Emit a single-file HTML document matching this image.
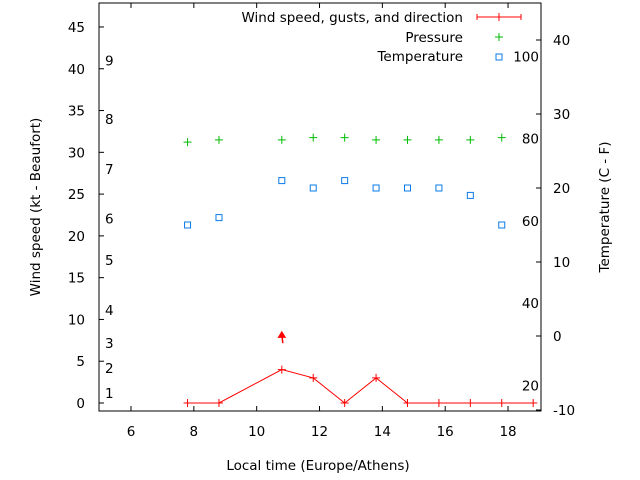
<!DOCTYPE html>
<html><head><meta charset="utf-8"><style>
body{margin:0;background:#fff;}
svg{display:block;font-family:"DejaVu Sans","Liberation Sans",sans-serif;font-size:13.5px;}
</style></head><body>
<svg id="chart" width="640" height="480">
<g id="axes"></g><g id="marks"></g>
</svg>
<script>
const times=[7.8,8.8,10.8,11.8,12.8,13.8,14.8,15.8,16.8,17.8,18.8];
const windKt=[0,0,4,3,0,3,0,0,0,0,0];
const gustTimes=[10.8];
const gustKt=[8];
const pressureTimes=[7.8,8.8,10.8,11.8,12.8,13.8,14.8,15.8,16.8,17.8];
const pressureVals=[26.2,26.5,26.5,26.8,26.8,26.5,26.5,26.5,26.5,26.8];
const tempTimes=[7.8,8.8,10.8,11.8,12.8,13.8,14.8,15.8,16.8,17.8];
const tempC=[15,16,21,20,21,20,20,20,19,15];
const xTicks=[6,8,10,12,14,16,18];
const yTicks=[0,5,10,15,20,25,30,35,40,45];
const y2Ticks=[-10,0,10,20,30,40];
const beaufortLabels=["1","2","3","4","5","6","7","8","9"];
const beaufortKt=[1.2,4.2,7.2,11.1,17.1,22.1,28,34,41];
const fahrenheit=[20,40,60,80,100];

const L=99,R=541,T=3,B=411;
const X=t=>131+(t-6)*31.42;
const Y=v=>403-v*8.356;
const Y2=c=>410-(c+10)*7.4;
const NS="http://www.w3.org/2000/svg";
const axes=document.getElementById('axes'),marks=document.getElementById('marks');
function mk(tag,attrs,parent,text){const e=document.createElementNS(NS,tag);for(const k in attrs)e.setAttribute(k,attrs[k]);if(text!==undefined)e.textContent=text;parent.appendChild(e);return e;}

let e=mk('rect',{x:L,y:T,width:R-L,height:B-T,fill:'none',stroke:'#000','stroke-width':1},axes);


xTicks.forEach(t=>{const x=X(t);
 mk('line',{x1:x,x2:x,y1:B,y2:B-5,stroke:'#000'},axes);mk('line',{x1:x,x2:x,y1:T,y2:T+5,stroke:'#000'},axes);
 const l=mk('text',{x:x,y:B+25,'text-anchor':'middle'},axes,String(t));
 
 });
yTicks.forEach(v=>{const y=Y(v);
 mk('line',{x1:L,x2:L+5,y1:y,y2:y,stroke:'#000'},axes);
 const l=mk('text',{x:85,y:y+5,'text-anchor':'end'},axes,String(v));
 
 });
y2Ticks.forEach(v=>{const y=Y2(v);
 mk('line',{x1:R,x2:R-5,y1:y,y2:y,stroke:'#000'},axes);
 const l=mk('text',{x:553,y:y+5},axes,String(v));
 
 });
beaufortLabels.forEach((b,i)=>{const l=mk('text',{x:105,y:Y(beaufortKt[i])+5},axes,b);
 
 });
fahrenheit.forEach(f=>{const l=mk('text',{x:539,y:Y2((f-32)*5/9)+5,'text-anchor':'end'},axes,String(f));
 
 });
e=mk('text',{x:318,y:470,'text-anchor':'middle'},axes,'Local time (Europe/Athens)');


e=mk('text',{x:0,y:0,'text-anchor':'middle',transform:'translate(40,207) rotate(-90)'},axes,'Wind speed (kt - Beaufort)');


e=mk('text',{x:0,y:0,'text-anchor':'middle',transform:'translate(609,207) rotate(-90)'},axes,'Temperature (C - F)');



const defs=mk('defs',{},marks);const cp=mk('clipPath',{id:'clip'},defs);mk('rect',{x:L,y:T,width:R-L,height:B-T},cp);
const g=mk('g',{'clip-path':'url(#clip)'},marks);
let pts=times.map((t,i)=>X(t)+','+Y(windKt[i])).join(' ');
e=mk('polyline',{points:pts,fill:'none',stroke:'#f00','stroke-width':1},g);


times.forEach((t,i)=>{const x=X(t),y=Y(windKt[i]);
 e=mk('path',{d:`M${x-4},${y}h8M${x},${y-4}v8`,stroke:'#f00','stroke-width':1},g);
 
 });
gustTimes.forEach((t,i)=>{const x=X(t),y=Y(gustKt[i]);
 e=mk('path',{d:`M${x+1},${y+7}L${x},${y-2}M${x-3},${y+1}L${x},${y-4}L${x+3},${y+1}Z`,stroke:'#f00',fill:'#f00','stroke-width':1.5},g);
 
 });
pressureTimes.forEach((t,i)=>{const x=X(t),y=Y2(pressureVals[i]);
 e=mk('path',{d:`M${x-4},${y}h8M${x},${y-4}v8`,stroke:'#0b0','stroke-width':1},g);
 
 });
tempTimes.forEach((t,i)=>{const x=X(t),y=Y2(tempC[i]);
 e=mk('rect',{x:x-3,y:y-3,width:6,height:6,fill:'none',stroke:'#0a7be8','stroke-width':1},g);
 
 });

const lg=mk('g',{},marks);


e=mk('text',{x:463,y:22,'text-anchor':'end'},lg,'Wind speed, gusts, and direction');


mk('path',{d:'M477,17h44M477,14v6M521,14v6M499,13v8',stroke:'#f00','stroke-width':1},lg);
e=mk('text',{x:463,y:42,'text-anchor':'end'},lg,'Pressure');


mk('path',{d:'M495,37h8M499,33v8',stroke:'#0b0'},lg);
e=mk('text',{x:463,y:61,'text-anchor':'end'},lg,'Temperature');


mk('rect',{x:496,y:54,width:6,height:6,fill:'none',stroke:'#0a7be8'},lg);
</script>
</body></html>
